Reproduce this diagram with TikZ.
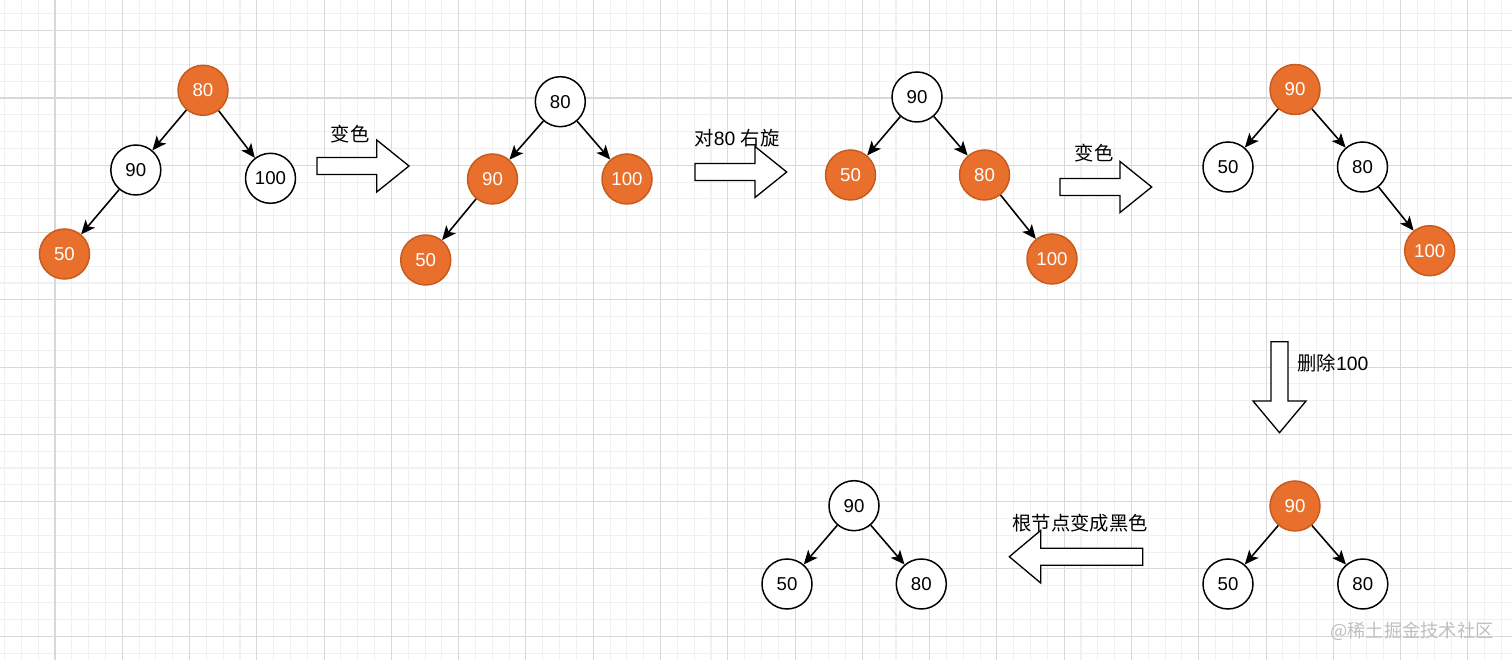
\documentclass[tikz,border=0pt]{standalone}
\usepackage{fontspec}
\setmainfont{Liberation Sans}
\newfontfamily\cjk{Noto Sans CJK SC}
\usepackage{tikz}
\usetikzlibrary{arrows.meta, positioning}
\usepackage{xcolor}

\definecolor{rbred}{HTML}{E9702C}
\definecolor{rbredline}{HTML}{C85A1E}
\definecolor{gridminor}{HTML}{F0F0F0}
\definecolor{gridmajor}{HTML}{D8D8D8}

\tikzset{
  rbnode/.style={circle, draw=black, line width=0.85pt, minimum size=1.0cm, inner sep=0pt, font=\fontsize{10.6}{12}\selectfont},
  blknode/.style={rbnode, fill=white},
  rednode/.style={rbnode, fill=rbred, draw=rbredline, text=white},
  link/.style={-{Stealth[length=8pt, width=7pt, inset=2pt]}, line width=0.9pt},
  bigarrow/.style={draw=black, fill=white, line width=0.75pt, line join=miter},
  steplabel/.style={font=\fontsize{11}{13}\selectfont\cjk, inner sep=0pt}
}

\begin{document}
\begin{tikzpicture}
\useasboundingbox (0,0) rectangle (30.24,-13.2);
\fill [white] (0,0) rectangle (30.24,-13.2);
% grid paper
\foreach \i in {-3,...,86} \draw [gridminor, line width=0.6pt] (1.1+0.3364*\i,0) -- (1.1+0.3364*\i,-13.2);
\foreach \j in {-1,...,38} \draw [gridminor, line width=0.6pt] (0,-0.614-0.3364*\j) -- (30.24,-0.614-0.3364*\j);
\foreach \i in {0,...,21} \draw [gridmajor, line width=0.6pt] (1.1+1.3456*\i,0) -- (1.1+1.3456*\i,-13.2);
\foreach \j in {0,...,9} \draw [gridmajor, line width=0.6pt] (0,-0.614-1.3456*\j) -- (30.24,-0.614-1.3456*\j);

% tree 1
\node [rednode] (a80) at (4.06,-1.806) {80};
\node [blknode] (a90) at (2.716,-3.40) {90};
\node [blknode] (a100) at (5.41,-3.566) {100};
\node [rednode] (a50) at (1.29,-5.08) {50};
\draw [link] (a80) -- (a90);
\draw [link] (a80) -- (a100);
\draw [link] (a90) -- (a50);

\draw [bigarrow] (6.34,-3.15) -- (7.534,-3.15) -- (7.534,-2.80) -- (8.18,-3.32) -- (7.534,-3.84) -- (7.534,-3.49) -- (6.34,-3.49) -- cycle;
\node [steplabel] (lbl1) at (7.00,-2.68) {变色};

% tree 2
\node [blknode] (b80) at (11.206,-2.034) {80};
\node [rednode] (b90) at (9.85,-3.58) {90};
\node [rednode] (b100) at (12.54,-3.58) {100};
\node [rednode] (b50) at (8.514,-5.20) {50};
\draw [link] (b80) -- (b90);
\draw [link] (b80) -- (b100);
\draw [link] (b90) -- (b50);

\draw [bigarrow] (13.90,-3.27) -- (15.10,-3.27) -- (15.10,-2.93) -- (15.734,-3.44) -- (15.10,-3.95) -- (15.10,-3.61) -- (13.90,-3.61) -- cycle;
\node [steplabel] (lbl2) at (14.74,-2.76) {对\fontspec{Liberation Sans}80 \cjk 右旋};

% tree 3
\node [blknode] (c90) at (18.34,-1.94) {90};
\node [rednode] (c50) at (17.01,-3.50) {50};
\node [rednode] (c80) at (19.69,-3.50) {80};
\node [rednode] (c100) at (21.04,-5.18) {100};
\draw [link] (c90) -- (c50);
\draw [link] (c90) -- (c80);
\draw [link] (c80) -- (c100);

\draw [bigarrow] (21.20,-3.57) -- (22.40,-3.57) -- (22.40,-3.23) -- (23.034,-3.74) -- (22.40,-4.25) -- (22.40,-3.91) -- (21.20,-3.91) -- cycle;
\node [steplabel] (lbl3) at (21.88,-3.06) {变色};

% tree 4
\node [rednode] (d90) at (25.90,-1.79) {90};
\node [blknode] (d50) at (24.56,-3.34) {50};
\node [blknode] (d80) at (27.25,-3.34) {80};
\node [rednode] (d100) at (28.594,-5.014) {100};
\draw [link] (d90) -- (d50);
\draw [link] (d90) -- (d80);
\draw [link] (d80) -- (d100);

\draw [bigarrow] (25.42,-6.834) -- (25.76,-6.834) -- (25.76,-8.02) -- (26.12,-8.02) -- (25.59,-8.654) -- (25.06,-8.02) -- (25.42,-8.02) -- cycle;
\node [steplabel] (lbl4) at (26.66,-7.26) {删除\fontspec{Liberation Sans}100};

% tree 5
\node [rednode] (e90) at (25.90,-10.12) {90};
\node [blknode] (e50) at (24.56,-11.68) {50};
\node [blknode] (e80) at (27.256,-11.68) {80};
\draw [link] (e90) -- (e50);
\draw [link] (e90) -- (e80);

\draw [bigarrow] (22.854,-10.964) -- (20.814,-10.964) -- (20.814,-10.608) -- (20.186,-11.134) -- (20.814,-11.66) -- (20.814,-11.304) -- (22.854,-11.304) -- cycle;
\node [steplabel] (lbl5) at (21.60,-10.454) {根节点变成黑色};

% tree 6
\node [blknode] (f90) at (17.08,-10.114) {90};
\node [blknode] (f50) at (15.74,-11.68) {50};
\node [blknode] (f80) at (18.426,-11.68) {80};
\draw [link] (f90) -- (f50);
\draw [link] (f90) -- (f80);

\node [steplabel, font=\fontsize{10.4}{12}\selectfont\cjk, text=black!25] (mark) at (28.24,-12.634) {@稀土掘金技术社区};
\end{tikzpicture}
\end{document}
